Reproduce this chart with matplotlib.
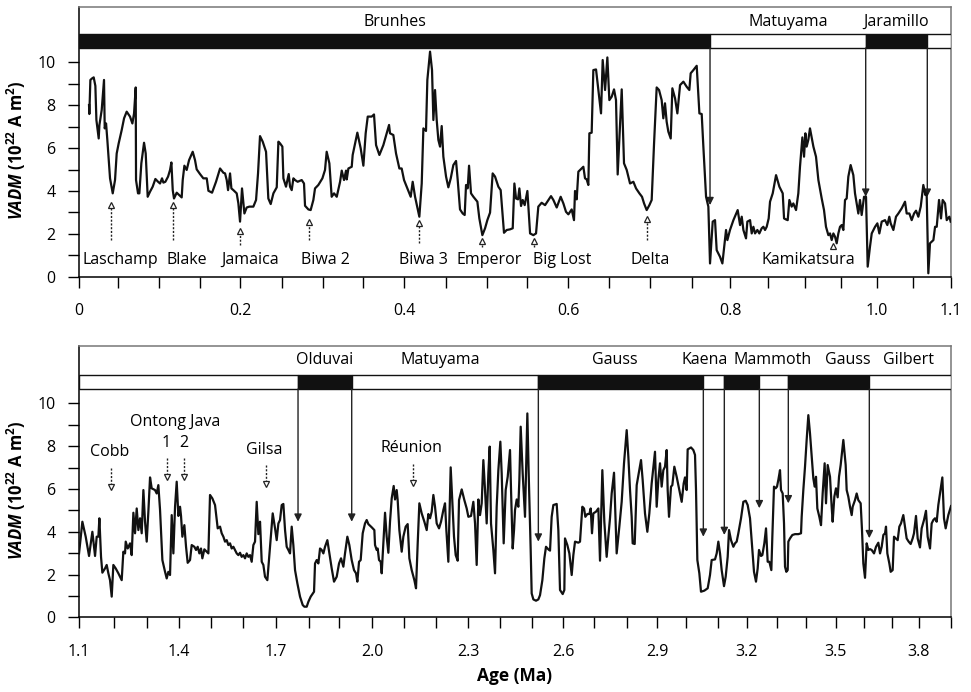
import numpy as np
import matplotlib.pyplot as plt
from matplotlib.patches import Rectangle

plt.rcParams['font.family'] = ['Open Sans', 'DejaVu Sans']
plt.rcParams['mathtext.fontset'] = 'custom'
plt.rcParams['mathtext.rm'] = 'Open Sans:bold'
plt.rcParams['mathtext.it'] = 'Open Sans:italic:bold'
plt.rcParams['mathtext.bf'] = 'Open Sans:bold'

# ---------------- data : 0 - 1.1 Ma ----------------
top_age = [0.0126, 0.0130, 0.0143, 0.0164, 0.0185, 0.0206, 0.0219, 0.0248, 0.0257, 0.0286,
           0.0315, 0.0324, 0.0341, 0.0357, 0.0391, 0.0425, 0.0454, 0.0475, 0.0500, 0.0538,
           0.0568, 0.0601, 0.0643, 0.0673, 0.0694, 0.0715, 0.0719, 0.0744, 0.0761, 0.0786,
           0.0820, 0.0841, 0.0866, 0.0896, 0.0929, 0.0963, 0.0997, 0.1022, 0.1047, 0.1064,
           0.1089, 0.1123, 0.1148, 0.1165, 0.1182, 0.1198, 0.1232, 0.1295, 0.1308, 0.1329,
           0.1358, 0.1388, 0.1434, 0.1463, 0.1484, 0.1526, 0.1568, 0.1611, 0.1632, 0.1678,
           0.1728, 0.1779, 0.1821, 0.1842, 0.1863, 0.1880, 0.1905, 0.1922, 0.1947, 0.1989,
           0.2010, 0.2031, 0.2056, 0.2086, 0.2115, 0.2149, 0.2199, 0.2233, 0.2258, 0.2283,
           0.2317, 0.2359, 0.2388, 0.2418, 0.2452, 0.2494, 0.2515, 0.2536, 0.2565, 0.2578,
           0.2611, 0.2645, 0.2662, 0.2683, 0.2704, 0.2725, 0.2758, 0.2809, 0.2838, 0.2851,
           0.2893, 0.2922, 0.2956, 0.2977, 0.3019, 0.3070, 0.3103, 0.3124, 0.3158, 0.3187,
           0.3217, 0.3251, 0.3293, 0.3314, 0.3343, 0.3368, 0.3377, 0.3398, 0.3440, 0.3452,
           0.3511, 0.3553, 0.3587, 0.3616, 0.3642, 0.3692, 0.3721, 0.3747, 0.3789, 0.3839,
           0.3881, 0.3911, 0.3923, 0.3965, 0.3999, 0.4041, 0.4070, 0.4100, 0.4142, 0.4184,
           0.4209, 0.4239, 0.4293, 0.4323, 0.4344, 0.4377, 0.4394, 0.4428, 0.4453, 0.4470,
           0.4491, 0.4512, 0.4533, 0.4554, 0.4575, 0.4596, 0.4630, 0.4659, 0.4689, 0.4722,
           0.4756, 0.4777, 0.4806, 0.4840, 0.4865, 0.4882, 0.4903, 0.4920, 0.4945, 0.4975,
           0.5025, 0.5050, 0.5088, 0.5122, 0.5151, 0.5185, 0.5218, 0.5248, 0.5290, 0.5319,
           0.5361, 0.5395, 0.5437, 0.5471, 0.5492, 0.5513, 0.5538, 0.5555, 0.5576, 0.5597,
           0.5622, 0.5656, 0.5690, 0.5731, 0.5765, 0.5794, 0.5836, 0.5879, 0.5921, 0.5954,
           0.5984, 0.6026, 0.6076, 0.6110, 0.6143, 0.6173, 0.6215, 0.6244, 0.6257, 0.6278,
           0.6299, 0.6341, 0.6362, 0.6383, 0.6404, 0.6425, 0.6438, 0.6467, 0.6488, 0.6522,
           0.6551, 0.6585, 0.6606, 0.6636, 0.6665, 0.6690, 0.6720, 0.6749, 0.6774, 0.6795,
           0.6816, 0.6846, 0.6875, 0.6909, 0.6951, 0.6993, 0.7027, 0.7069, 0.7102, 0.7128,
           0.7161, 0.7195, 0.7224, 0.7254, 0.7287, 0.7317, 0.7350, 0.7371, 0.7392, 0.7413,
           0.7434, 0.7464, 0.7485, 0.7519, 0.7548, 0.7582, 0.7624, 0.7666, 0.7699, 0.7716,
           0.7750, 0.7792, 0.7826, 0.7855, 0.7876, 0.7910, 0.7939, 0.7960, 0.7994, 0.8023,
           0.8044, 0.8086, 0.8116, 0.8149, 0.8162, 0.8179, 0.8212, 0.8255, 0.8309, 0.8339,
           0.8360, 0.8381, 0.8414, 0.8431, 0.8465, 0.8486, 0.8507, 0.8528, 0.8557, 0.8582,
           0.8612, 0.8633, 0.8654, 0.8675, 0.8700, 0.8717, 0.8751, 0.8793, 0.8835, 0.8877,
           0.8894, 0.8919, 0.8940, 0.8961, 0.8990, 0.9011, 0.9045, 0.9074, 0.9095, 0.9125,
           0.9146, 0.9163, 0.9179, 0.9200, 0.9221, 0.9264, 0.9297, 0.9327, 0.9369, 0.9398,
           0.9423, 0.9453, 0.9474, 0.9495, 0.9516, 0.9537, 0.9558, 0.9579, 0.9600, 0.9621,
           0.9642, 0.9663, 0.9684, 0.9705, 0.9734, 0.9768, 0.9789, 0.9810, 0.9831, 0.9852,
           0.9873, 0.9903, 0.9928, 0.9949, 0.9978, 1.0000, 1.0042, 1.0071, 1.0096, 1.0126,
           1.0168, 1.0197, 1.0222, 1.0239, 1.0273, 1.0306, 1.0336, 1.0378, 1.0420, 1.0441,
           1.0475, 1.0504, 1.0534, 1.0559, 1.0588, 1.0618, 1.0651, 1.0677, 1.0693, 1.0714,
           1.0735, 1.0778, 1.0799, 1.0820, 1.0849, 1.0874, 1.0895, 1.0925, 1.0946, 1.0979,
           1.0996]
top_vadm = [8.01, 7.59, 9.18, 9.25, 9.30, 8.90, 7.31, 6.45, 7.08, 7.78,
            9.18, 6.92, 7.15, 6.38, 4.59, 3.89, 4.51, 5.75, 6.22, 6.84,
            7.39, 7.70, 7.47, 7.15, 7.62, 8.83, 4.51, 3.89, 3.89, 5.29,
            6.25, 5.75, 3.73, 3.97, 4.20, 4.56, 4.43, 4.35, 4.59, 4.39,
            4.43, 4.67, 4.98, 5.33, 4.04, 3.65, 3.92, 3.70, 4.51, 5.18,
            4.98, 5.44, 5.83, 5.44, 5.01, 4.79, 4.59, 4.59, 4.01, 3.92,
            4.43, 5.05, 4.85, 4.82, 4.51, 4.04, 4.82, 4.12, 4.04, 3.89,
            3.42, 2.57, 4.12, 2.95, 3.23, 3.27, 3.27, 3.58, 4.82, 6.56,
            6.30, 5.83, 3.65, 3.39, 3.89, 4.17, 6.30, 6.22, 6.07, 4.59,
            4.20, 4.79, 4.20, 4.04, 4.59, 4.51, 4.43, 4.51, 4.35, 3.31,
            3.14, 3.11, 3.58, 4.12, 4.28, 4.59, 4.98, 5.83, 5.29, 3.73,
            3.89, 3.73, 4.43, 4.95, 4.51, 4.95, 4.54, 5.05, 5.13, 5.68,
            6.72, 5.99, 5.18, 6.69, 7.47, 7.47, 7.57, 6.14, 5.68, 6.14,
            6.69, 7.08, 6.69, 6.61, 5.75, 5.05, 5.05, 4.51, 4.12, 3.73,
            4.43, 3.73, 2.80, 4.35, 6.92, 6.80, 9.18, 10.50, 9.64, 7.31,
            8.71, 7.31, 6.38, 6.07, 7.03, 5.60, 4.67, 4.17, 4.59, 5.21,
            5.40, 4.51, 3.14, 2.95, 2.88, 4.28, 4.12, 5.18, 3.89, 3.73,
            3.50, 2.72, 1.94, 2.26, 2.64, 2.99, 4.82, 4.67, 4.20, 4.04,
            2.05, 2.18, 2.21, 2.26, 4.35, 3.65, 3.61, 4.12, 3.30, 3.58,
            3.34, 4.00, 2.02, 1.94, 2.02, 3.27, 3.45, 3.34, 3.58, 3.76,
            3.58, 3.23, 3.73, 3.42, 3.03, 2.91, 3.14, 2.64, 4.00, 3.61,
            4.90, 5.05, 5.13, 4.59, 4.54, 4.28, 6.69, 6.72, 9.64, 9.67,
            8.71, 7.62, 10.11, 8.71, 10.23, 8.24, 8.40, 8.74, 8.24, 4.77,
            6.38, 8.74, 5.29, 4.98, 4.35, 4.43, 4.12, 3.89, 3.73, 3.42,
            3.11, 3.34, 3.58, 6.22, 8.83, 8.71, 8.24, 7.39, 8.09, 7.23,
            6.77, 6.45, 8.79, 8.32, 7.62, 8.94, 9.10, 8.86, 8.71, 9.49,
            9.64, 9.84, 7.62, 7.59, 6.07, 3.73, 3.27, 0.62, 2.57, 2.64,
            1.24, 0.93, 0.62, 1.71, 2.18, 1.71, 2.18, 2.64, 3.11, 2.41,
            2.80, 2.18, 1.79, 2.57, 2.64, 2.02, 2.33, 2.02, 2.18, 2.02,
            2.26, 2.33, 2.18, 2.33, 2.72, 3.50, 3.89, 4.74, 4.20, 3.89,
            2.72, 2.67, 2.64, 3.58, 3.27, 3.42, 3.11, 3.89, 5.13, 6.50,
            5.60, 6.69, 6.07, 6.38, 6.92, 6.07, 5.60, 4.51, 3.65, 3.11,
            2.33, 1.94, 2.02, 1.71, 2.02, 1.87, 1.56, 2.02, 2.33, 2.41,
            2.18, 3.58, 3.65, 4.67, 5.21, 4.74, 3.89, 3.42, 2.95, 3.58,
            2.88, 3.73, 3.73, 0.47, 1.40, 2.02, 2.33, 2.49, 2.02, 2.57,
            2.64, 2.41, 2.80, 2.49, 2.18, 2.80, 2.95, 3.19, 3.50, 2.95,
            2.95, 2.64, 2.95, 3.08, 2.80, 3.27, 4.28, 3.81, 3.89, 0.16,
            1.56, 1.71, 2.33, 2.33, 3.58, 2.72, 3.58, 3.42, 2.64, 2.80,
            2.57]

# ---------------- data : 1.1 - 3.9 Ma ----------------
bot_age = [1.1000, 1.1107, 1.1214, 1.1321, 1.1428, 1.1514, 1.1567, 1.1621, 1.1653, 1.1706,
           1.1749, 1.1835, 1.1888, 1.1942, 1.1995, 1.2049, 1.2102, 1.2177, 1.2263, 1.2370,
           1.2423, 1.2477, 1.2499, 1.2563, 1.2638, 1.2691, 1.2745, 1.2798, 1.2852, 1.2905,
           1.2959, 1.3012, 1.3066, 1.3119, 1.3173, 1.3226, 1.3280, 1.3333, 1.3440, 1.3494,
           1.3547, 1.3601, 1.3676, 1.3762, 1.3815, 1.3868, 1.3922, 1.3976, 1.4029, 1.4083,
           1.4136, 1.4190, 1.4243, 1.4275, 1.4318, 1.4382, 1.4436, 1.4489, 1.4564, 1.4618,
           1.4703, 1.4757, 1.4810, 1.4864, 1.4917, 1.4960, 1.5024, 1.5099, 1.5153, 1.5206,
           1.5281, 1.5367, 1.5453,
           1.5528, 1.5581, 1.5635, 1.5688, 1.5742, 1.5795, 1.5849, 1.5902, 1.5956, 1.6009,
           1.6063, 1.6116, 1.6170, 1.6223, 1.6277, 1.6330, 1.6384, 1.6437, 1.6491, 1.6544,
           1.6598, 1.6651, 1.6705, 1.6758, 1.6812, 1.6866, 1.6919, 1.6972, 1.7047, 1.7133,
           1.7219, 1.7294, 1.7347, 1.7401, 1.7454, 1.7508, 1.7561, 1.7615, 1.7668, 1.7722,
           1.7775, 1.7829, 1.7882, 1.7936, 1.8011, 1.8096, 1.8182, 1.8236, 1.8311, 1.8364,
           1.8439, 1.8546, 1.8578, 1.8632, 1.8685, 1.8739, 1.8792, 1.8846, 1.8899, 1.8974,
           1.9038, 1.9113, 1.9188, 1.9274, 1.9349, 1.9413, 1.9488, 1.9541, 1.9616, 1.9680,
           1.9755, 1.9830, 1.9894, 1.9937, 1.9991, 2.0044, 2.0109,
           2.0183, 2.0237, 2.0290, 2.0398, 2.0483, 2.0505, 2.0558, 2.0590, 2.0633, 2.0687,
           2.0719, 2.0772, 2.0826, 2.0879, 2.0933, 2.0986, 2.1040, 2.1104, 2.1147, 2.1200,
           2.1232, 2.1286, 2.1361, 2.1414, 2.1489, 2.1553, 2.1607, 2.1682, 2.1768, 2.1821,
           2.1875, 2.1928, 2.2003, 2.2089, 2.2164, 2.2217, 2.2271, 2.2324, 2.2378, 2.2431,
           2.2485, 2.2560, 2.2624, 2.2699, 2.2752, 2.2795, 2.2859, 2.2934, 2.2988, 2.3041,
           2.3095, 2.3159, 2.3202, 2.3288, 2.3373, 2.3448, 2.3502, 2.3587, 2.3662, 2.3716,
           2.3769, 2.3823, 2.3876, 2.3930, 2.3983, 2.4037, 2.4090, 2.4144, 2.4187, 2.4229,
           2.4304, 2.4358, 2.4411, 2.4465, 2.4529, 2.4572, 2.4636, 2.4700, 2.4765,
           2.4839, 2.4872, 2.4925, 2.4968, 2.5000, 2.5054, 2.5107, 2.5139, 2.5182, 2.5246,
           2.5321, 2.5396, 2.5439, 2.5503, 2.5535, 2.5589, 2.5674, 2.5749, 2.5803, 2.5878,
           2.5942, 2.5995, 2.6070, 2.6124, 2.6177, 2.6231, 2.6338, 2.6391, 2.6445, 2.6531,
           2.6584, 2.6605, 2.6680, 2.6745, 2.6820, 2.6873, 2.6927, 2.7034, 2.7087, 2.7162,
           2.7216, 2.7258, 2.7323, 2.7387, 2.7430, 2.7472, 2.7515, 2.7601, 2.7676, 2.7729,
           2.7804, 2.7868, 2.7943, 2.7997, 2.8050, 2.8104, 2.8179, 2.8264, 2.8350, 2.8425,
           2.8500, 2.8586, 2.8639, 2.8693, 2.8746, 2.8778, 2.8843, 2.8907, 2.8982, 2.9046,
           2.9099, 2.9174, 2.9249, 2.9313, 2.9388,
           2.9495, 2.9549, 2.9602, 2.9656, 2.9709, 2.9763, 2.9816, 2.9870, 2.9902, 2.9945,
           3.0009, 3.0052, 3.0116, 3.0191, 3.0266, 3.0352, 3.0416, 3.0459, 3.0512, 3.0544,
           3.0651, 3.0726, 3.0780, 3.0812, 3.0855, 3.0919, 3.0972, 3.1079, 3.1187, 3.1261,
           3.1315, 3.1422, 3.1476, 3.1529, 3.1583, 3.1636, 3.1711, 3.1765, 3.1829, 3.1872,
           3.1936, 3.2011, 3.2064, 3.2118, 3.2171, 3.2257, 3.2332, 3.2407, 3.2471, 3.2546,
           3.2599, 3.2674, 3.2738, 3.2792, 3.2835, 3.2899, 3.2942, 3.3006, 3.3060, 3.3113,
           3.3167, 3.3231, 3.3263, 3.3316, 3.3370, 3.3413, 3.3455, 3.3509, 3.3541, 3.3595,
           3.3638, 3.3670, 3.3712, 3.3756, 3.3777, 3.3830, 3.3905, 3.3991, 3.4098, 3.4184,
           3.4205, 3.4258, 3.4312, 3.4365, 3.4419, 3.4472, 3.4526, 3.4579, 3.4622, 3.4665,
           3.4708, 3.4772, 3.4826, 3.4879, 3.4943, 3.4986, 3.5040, 3.5115, 3.5168, 3.5200,
           3.5254, 3.5307, 3.5361, 3.5404, 3.5457, 3.5543, 3.5618, 3.5650, 3.5703, 3.5757,
           3.5811, 3.5843, 3.5917, 3.5971, 3.6024, 3.6099, 3.6142, 3.6185, 3.6239, 3.6292,
           3.6346, 3.6399, 3.6453, 3.6528, 3.6592, 3.6667, 3.6721, 3.6774, 3.6828, 3.6881,
           3.6913, 3.6956, 3.7020, 3.7063, 3.7127, 3.7170, 3.7224, 3.7288, 3.7341, 3.7394,
           3.7469, 3.7523, 3.7576, 3.7641, 3.7705, 3.7769, 3.7812, 3.7876, 3.7930, 3.8004,
           3.8058, 3.8133, 3.8197, 3.8251, 3.8326, 3.8379, 3.8433, 3.8486, 3.8540, 3.8593,
           3.8647, 3.8722, 3.8775, 3.8829, 3.8914, 3.9000]
bot_vadm = [2.99, 4.47, 3.77, 2.87, 4.00, 2.87, 3.77, 3.77, 4.63, 2.83,
            2.09, 2.29, 2.45, 2.06, 1.74, 0.97, 2.45, 2.29, 2.06, 1.74,
            3.07, 2.99, 3.54, 3.22, 3.46, 2.91, 4.89, 3.93, 5.09, 4.08,
            4.63, 3.93, 5.95, 4.47, 3.54, 4.94, 6.54, 6.03, 5.95, 5.79,
            6.18, 5.02, 2.68, 2.13, 1.82, 2.13, 1.98, 4.78, 2.99, 5.17,
            6.34, 4.74, 5.17, 4.74, 3.77, 4.31, 3.30, 2.55, 2.68, 3.38,
            3.30, 3.15, 3.30, 2.99, 3.22, 2.76, 3.18, 3.07, 2.99, 5.72,
            5.56, 5.25, 4.16,
            4.24, 3.93, 3.77, 3.54, 3.61, 3.38, 3.46, 3.22, 3.30, 3.15,
            2.99, 2.91, 3.02, 2.83, 2.91, 2.76, 2.99, 2.83, 2.91, 2.60,
            3.38, 3.54, 5.40, 3.89, 4.47, 2.60, 2.45, 1.90, 1.74, 3.30,
            4.86, 4.16, 3.61, 4.39, 4.55, 5.25, 5.30, 4.08, 3.30, 3.15,
            2.99, 4.24, 3.38, 2.21, 1.59, 0.97, 0.58, 0.50, 0.50, 0.73,
            0.97, 1.20, 2.52, 2.68, 2.52, 3.22, 3.15, 2.99, 3.30, 3.61,
            2.99, 2.29, 1.67, 1.90, 2.52, 2.76, 2.37, 2.99, 3.77, 3.38,
            2.68, 2.21, 2.06, 1.67, 2.60, 2.68, 3.93,
            4.39, 4.55, 4.36, 4.21, 4.08, 3.38, 3.15, 3.22, 2.68, 2.60,
            2.06, 3.46, 4.89, 3.77, 3.02, 4.47, 5.56, 6.14, 5.51, 5.95,
            5.48, 4.08, 3.07, 3.77, 4.24, 4.36, 2.76, 2.21, 1.74, 1.36,
            3.46, 5.33, 4.86, 4.47, 4.08, 4.83, 4.63, 4.94, 5.72, 5.17,
            4.39, 4.16, 4.47, 5.02, 5.33, 4.08, 2.60, 7.01, 5.33, 3.77,
            2.91, 2.65, 5.48, 5.98, 5.48, 5.09, 4.70, 4.74, 5.40, 4.39,
            2.45, 5.51, 4.78, 5.33, 7.35, 5.95, 4.39, 6.73, 7.98, 4.39,
            3.15, 2.06, 5.17, 6.88, 8.21, 6.73, 3.46, 5.95, 6.57,
            7.82, 5.95, 3.22, 4.08, 5.02, 5.51, 5.17, 6.42, 8.91, 6.73,
            4.70, 9.53, 6.73, 3.15, 1.12, 0.84, 0.78, 0.84, 1.04, 1.74,
            2.76, 3.30, 3.18, 3.12, 4.70, 5.25, 5.30, 4.08, 1.28, 1.09,
            1.28, 3.69, 3.38, 2.99, 1.98, 2.91, 3.54, 3.49, 3.54, 5.17,
            5.09, 4.70, 4.83, 4.83, 5.09, 3.93, 4.86, 4.94, 5.09, 2.65,
            6.88, 4.47, 2.83, 3.77, 4.63, 5.79, 6.76, 2.99, 4.24, 5.40,
            7.20, 8.75, 7.51, 5.95, 4.70, 3.46, 3.43, 6.18, 6.81, 7.35,
            6.42, 4.86, 4.00, 4.86, 6.26,
            7.74, 5.17, 6.42, 7.20, 6.11, 6.88, 7.04, 7.82, 5.95, 4.70,
            6.11, 6.18, 7.04, 6.57, 6.03, 5.40, 6.26, 6.54, 5.95, 7.85,
            7.94, 7.82, 7.59, 5.95, 2.68, 2.06, 1.20, 1.25, 1.36, 1.98,
            2.68, 2.71, 2.99, 3.54, 2.99, 2.21, 1.46, 1.90, 2.83, 4.08,
            3.61, 3.30, 3.46, 3.54, 3.93, 4.63, 5.40, 5.45, 5.25, 4.63,
            3.61, 2.13, 1.67, 2.29, 3.15, 2.87, 2.91, 3.46, 4.16, 2.60,
            2.60, 2.21, 3.77, 6.11, 6.03, 6.11, 6.42, 6.88, 5.95, 5.79,
            4.39, 2.37, 2.13, 2.21, 3.54, 3.69, 3.85, 3.89, 3.89, 3.93,
            4.70, 5.95, 7.04, 8.29, 9.45, 8.60, 7.51, 6.50, 6.11, 6.57,
            5.09, 4.70, 4.31, 5.79, 7.20, 5.33, 7.12, 6.57, 5.17, 4.47,
            5.64, 6.03, 5.61, 6.57, 7.12, 8.29, 7.12, 5.95, 5.64, 5.17,
            4.78, 5.17, 5.48, 5.79, 5.48, 5.33, 4.08, 2.52, 1.85, 3.46,
            3.15, 3.19, 3.15, 2.99, 3.30, 3.49, 2.99, 3.30, 3.85, 3.93,
            4.24, 2.99, 2.52, 2.13, 2.21, 3.77, 3.69, 3.61, 4.24, 4.39,
            4.78, 4.24, 3.69, 3.54, 3.43, 3.69, 3.93, 4.74, 3.69, 3.27,
            4.16, 4.55, 4.98, 3.77, 3.22, 4.39, 4.55, 4.63, 4.47, 5.25,
            5.79, 6.54, 4.63, 4.16, 4.78, 5.20]

# axis ticks as drawn in the original (spacing is not quite even there)
top_tick_pos = [0.0, 0.0492, 0.1009, 0.1526, 0.2031, 0.2561, 0.3078, 0.3583, 0.4100, 0.4630,
                0.5147, 0.5652, 0.6169, 0.6686, 0.7203, 0.7733, 0.8212, 0.8692, 0.9159, 0.9613,
                1.0067, 1.0521, 1.1000]
top_tick_labels = ['0', '', '', '', '0.2', '', '', '', '0.4', '', '', '', '0.6', '', '', '',
                   '0.8', '', '', '', '1.0', '', '1.1']
bot_tick_pos = [1.1000, 1.2124, 1.3183, 1.4211, 1.5239, 1.6266, 1.7326, 1.8385, 1.9349, 2.0408,
                2.1436, 2.2463, 2.3491, 2.4518, 2.5546, 2.6541, 2.7537, 2.8596, 2.9560, 3.0491,
                3.1518, 3.2449, 3.3413, 3.4344, 3.5307, 3.6206, 3.7105, 3.7972, 3.9000]
bot_tick_labels = ['1.1', '', '', '1.4', '', '', '1.7', '', '', '2.0', '', '', '2.3', '', '',
                   '2.6', '', '', '2.9', '', '', '3.2', '', '', '3.5', '', '', '3.8', '']

# polarity chrons (edges in Ma, black = normal)
top_chron_edges = [0.0, 0.796, 0.9924, 1.0701, 1.1]
top_chron_black = [True, False, True, False]
top_chron_names = ['Brunhes', 'Matuyama', 'Jaramillo']
top_chron_name_age = [0.398, 0.895, 1.031]
top_bound_tip = [3.34, 3.73, 3.73]

bot_chron_edges = [1.1, 1.8032, 1.9756, 2.5749, 3.1047, 3.1721, 3.2845, 3.3776, 3.6377, 3.9]
bot_chron_black = [False, True, False, True, False, True, False, True, False]
bot_chron_names = ['Olduvai', 'Matuyama', 'Gauss', 'Kaena', 'Mammoth', 'Gauss', 'Gilbert']
bot_chron_name_age = [1.889, 2.259, 2.821, 3.110, 3.328, 3.569, 3.765]
bot_bound_tip = [4.47, 4.47, 3.54, 3.77, 3.85, 5.10, 5.33, 3.70]

# excursions
top_event_names = ['Laschamp', 'Blake', 'Jamaica', 'Biwa 2', 'Biwa 3', 'Emperor',
                   'Big Lost', 'Delta', 'Kamikatsura']
top_event_age = [0.0404, 0.1186, 0.2031, 0.2901, 0.4289, 0.5084, 0.5740, 0.7165, 0.9512]
top_event_head = [3.48, 3.48, 2.27, 2.69, 2.64, 1.80, 1.80, 2.83, 1.57]
top_event_tail = [1.71, 1.71, 1.48, 1.71, 1.57, 1.39, 1.39, 1.71, 1.30]
top_event_label_age = [0.0517, 0.1362, 0.2157, 0.3103, 0.4340, 0.5172, 0.6093, 0.7203, 0.9196]

bot_event_names = ['Cobb', '1', '2', 'Gilsa', 'Réunion']
bot_event_age = [1.2017, 1.3826, 1.4382, 1.6994, 2.1714]
bot_event_tail = [6.97, 7.43, 7.43, 7.12, 7.17]
bot_event_head = [5.95, 6.45, 6.45, 6.11, 6.15]
bot_event_label_age = [1.1995, 1.3794, 1.4349, 1.6950, 2.1682]
bot_event_label_y = [7.74, 8.13, 8.13, 7.82, 7.90]

FS = 11.5
BAR_LO, BAR_HI = 10.67, 11.32


def setup(ax, xlim, ymax, ticks, labels):
    ax.set_xlim(*xlim)
    ax.set_ylim(0, ymax)
    ax.set_xticks(ticks)
    ax.set_xticklabels(labels)
    ax.set_yticks([0, 2, 4, 6, 8, 10])
    ax.set_yticks([1, 3, 5, 7, 9], minor=True)
    ax.tick_params(which='both', direction='out', length=8, width=1,
                   labelsize=FS, colors='black')
    ax.tick_params(axis='y', pad=9)
    ax.tick_params(axis='x', pad=11)
    for s in ['left', 'bottom']:
        ax.spines[s].set_color('black')
        ax.spines[s].set_linewidth(1.1)
    for s in ['top', 'right']:
        ax.spines[s].set_color('#777777')
        ax.spines[s].set_linewidth(1.1)
    ax.set_ylabel(r'$\it{VADM}$ (10$^{22}$ A m$^{2}$)', fontsize=12, fontweight='bold')
    ax.yaxis.set_label_coords(-0.058, 0.47)


def chrons(ax, edges, black, names, name_age, tips, name_y):
    for i in range(len(black)):
        ax.add_patch(Rectangle((edges[i], BAR_LO), edges[i + 1] - edges[i], BAR_HI - BAR_LO,
                               facecolor='#111111' if black[i] else 'white',
                               edgecolor='#111111', lw=1, zorder=3))
    for n, a in zip(names, name_age):
        ax.text(a, name_y, n, ha='center', va='center', fontsize=FS)
    for a, t in zip(edges[1:-1], tips):
        ax.annotate('', xy=(a, t), xytext=(a, BAR_LO),
                    arrowprops=dict(arrowstyle='-|>', color='#222222', lw=1,
                                    mutation_scale=11, shrinkA=0, shrinkB=0), zorder=4)


fig = plt.figure(figsize=(9.71, 6.92), dpi=100)
ax1 = fig.add_axes([0.0814, 0.6001, 0.898, 0.3897])
ax2 = fig.add_axes([0.0814, 0.1078, 0.898, 0.3922])

# ---- top panel ----
setup(ax1, (0, 1.1), 12.58, top_tick_pos, top_tick_labels)
ax1.plot(top_age, top_vadm, color='#111111', lw=1.6, zorder=5)
chrons(ax1, top_chron_edges, top_chron_black, top_chron_names, top_chron_name_age,
       top_bound_tip, 11.9)
for a, h, t in zip(top_event_age, top_event_head, top_event_tail):
    ax1.plot([a, a], [t, h - 0.2], ls=(0, (1.5, 1.2)), color='#222222', lw=1)
    ax1.plot([a], [h - 0.12], marker='^', ms=5, mfc='white', mec='#222222', mew=0.9)
for n, a in zip(top_event_names, top_event_label_age):
    ax1.text(a, 0.78, n, ha='center', va='center', fontsize=FS)

# ---- bottom panel ----
setup(ax2, (1.1, 3.9), 12.68, bot_tick_pos, bot_tick_labels)
ax2.plot(bot_age, bot_vadm, color='#111111', lw=1.6, zorder=5)
chrons(ax2, bot_chron_edges, bot_chron_black, bot_chron_names, bot_chron_name_age,
       bot_bound_tip, 12.03)
for a, h, t in zip(bot_event_age, bot_event_head, bot_event_tail):
    ax2.plot([a, a], [t, h + 0.2], ls=(0, (1.5, 1.2)), color='#222222', lw=1)
    ax2.plot([a], [h + 0.12], marker='v', ms=5, mfc='white', mec='#222222', mew=0.9)
for n, a, y in zip(bot_event_names, bot_event_label_age, bot_event_label_y):
    ax2.text(a, y, n, ha='center', va='center', fontsize=FS)
ax2.text(1.4093, 9.15, 'Ontong Java', ha='center', va='center', fontsize=FS)
ax2.set_xlabel('Age (Ma)', fontsize=12.5, fontweight='bold', labelpad=5)

fig.savefig('out.png', dpi=100)
